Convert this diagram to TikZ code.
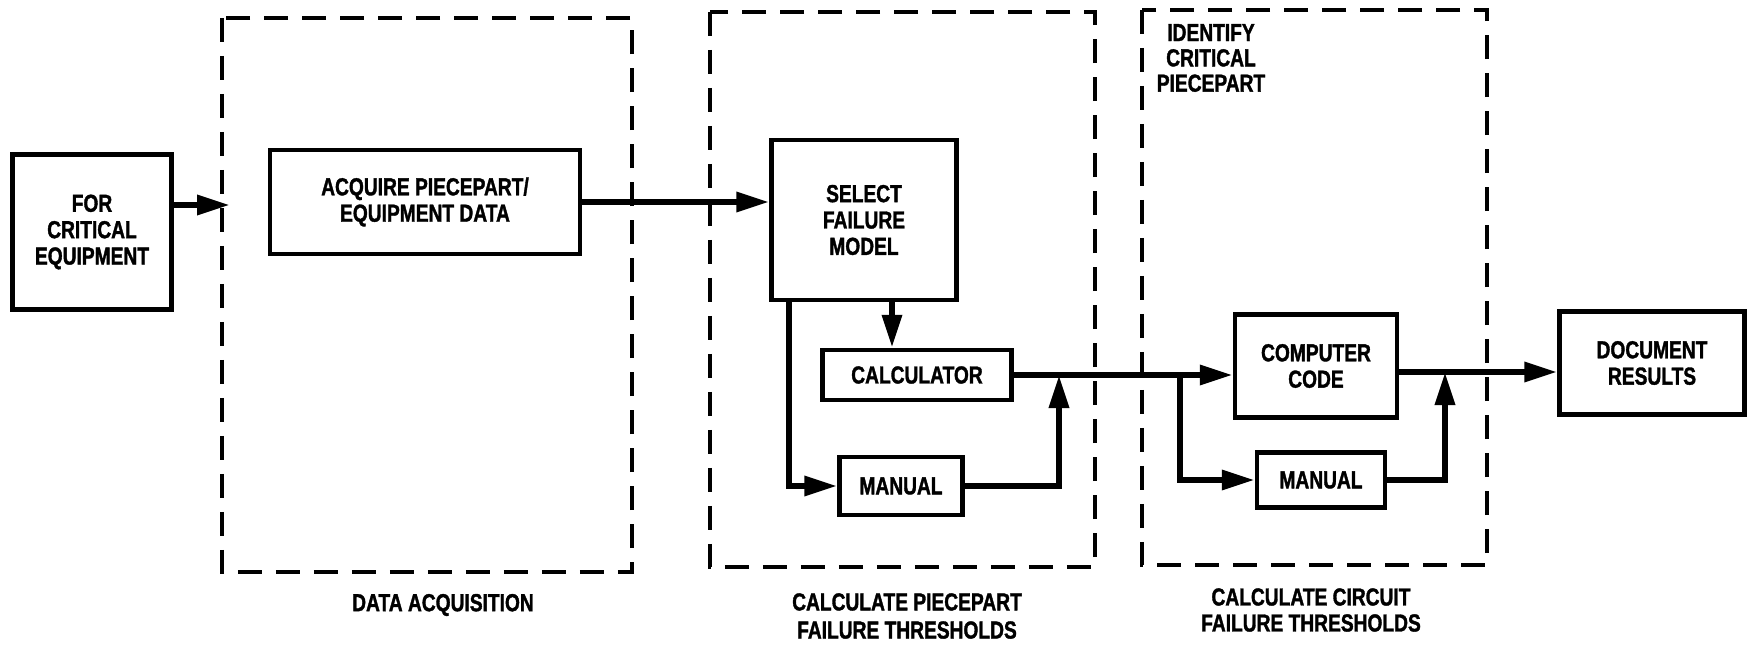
\documentclass[tikz,border=0pt]{standalone}
\usepackage{fontspec}
\setmainfont{Liberation Sans}[FakeStretch=0.78, BoldFeatures={FakeBold=1.4}]
\usetikzlibrary{arrows.meta, positioning, calc}

\begin{document}
\begin{tikzpicture}[
    x=0.1mm, y=-0.1mm,
    >={Triangle[length=3.3mm, width=1.9mm]},
    block/.style={draw, line width=1.25pt, align=center, inner sep=0pt,
                  font=\fontsize{7}{7.5}\selectfont\bfseries},
    stage/.style={line width=1.3pt, dash pattern=on 2.4mm off 1.4mm},
    arrow/.style={->, line width=1.8pt},
    caption/.style={align=center, font=\fontsize{7}{8}\selectfont\bfseries}
]
    \useasboundingbox (0,0) rectangle (1750,646);

    % Stages (dashed frames)
    \draw[stage] (222,18) rectangle (632,572);
    \draw[stage] (710,12) rectangle (1095,567);
    \draw[stage] (1142,10) rectangle (1487,565);

    % Blocks
    \node[block, minimum width=15.9mm, minimum height=15.5mm] (crit) at (92,232) {FOR\\CRITICAL\\EQUIPMENT};
    \node[block, minimum width=31mm, minimum height=10.4mm] (acquire) at (425,202) {ACQUIRE PIECEPART/\\EQUIPMENT DATA};
    \node[block, minimum width=18.5mm, minimum height=16mm] (select) at (864,220) {SELECT\\FAILURE\\MODEL};
    \node[block, minimum width=18.9mm, minimum height=5mm] (calc) at (917,375) {CALCULATOR};
    \node[block, minimum width=12.3mm, minimum height=5.8mm] (manA) at (901,486) {MANUAL};
    \node[block, minimum width=16.2mm, minimum height=10.3mm] (code) at (1316,366) {COMPUTER\\CODE};
    \node[block, minimum width=12.8mm, minimum height=5.5mm] (manB) at (1321,480) {MANUAL};
    \node[block, minimum width=18.5mm, minimum height=10.3mm] (doc) at (1652,363) {DOCUMENT\\RESULTS};

    % Stage texts
    \node[caption, font=\fontsize{7}{7.2}\selectfont\bfseries] (ident) at (1211,58) {IDENTIFY\\CRITICAL\\PIECEPART};
    \node[caption] (capA) at (443,605) {DATA ACQUISITION};
    \node[caption] (capB) at (907,616) {CALCULATE PIECEPART\\FAILURE THRESHOLDS};
    \node[caption, font=\fontsize{7}{7.4}\selectfont\bfseries] (capC) at (1311,610) {CALCULATE CIRCUIT\\FAILURE THRESHOLDS};

    % Junctions
    \coordinate (entry) at (230,205);
    \coordinate (dropA) at (892,300);
    \coordinate (splitA) at (789,300);
    \coordinate (joinA) at (1059,375);
    \coordinate (splitB) at (1180,375);
    \coordinate (joinB) at (1445,372);

    % Arrows
    \draw[arrow] (crit.east |- entry) -- (entry);
    \draw[arrow] (acquire.east) -- (acquire.east -| select.west);
    \draw[arrow] (dropA) -- (dropA |- calc.north);
    \draw[arrow] (splitA) |- (manA.west);
    \draw[arrow] (manA.east) -| (joinA);
    \draw[arrow] (calc.east) -- (calc.east -| code.west);
    \draw[arrow] (splitB) |- (manB.west);
    \draw[arrow] (manB.east) -| (joinB);
    \draw[arrow] (code.east |- joinB) -- (joinB -| doc.west);
\end{tikzpicture}
\end{document}
